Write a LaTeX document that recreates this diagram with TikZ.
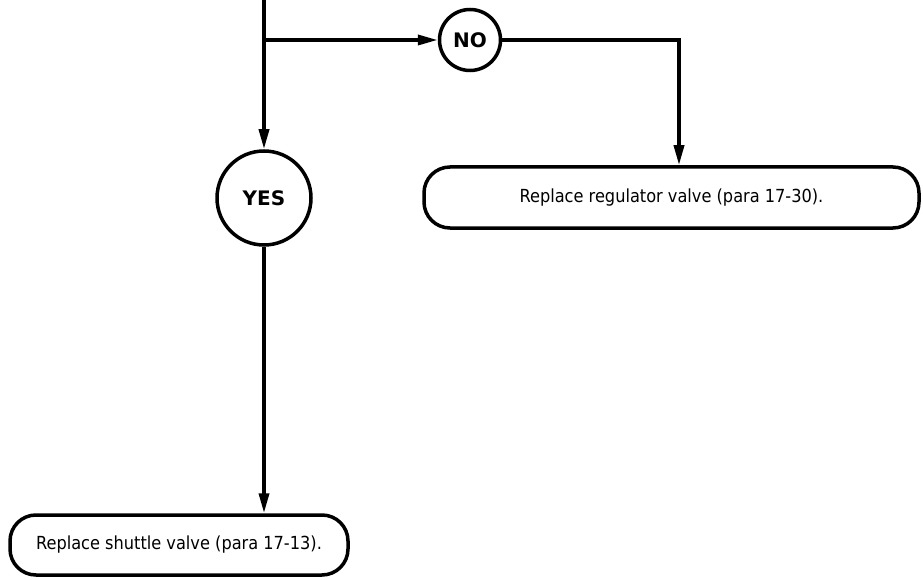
\documentclass[tikz,border=0pt]{standalone}
\usepackage{fontspec}
\setmainfont{DejaVu Sans}
\newfontfamily\condfont{DejaVu Sans Condensed}
\usetikzlibrary{arrows.meta}
\begin{document}
\begin{tikzpicture}[x=1pt,y=-1pt,line width=3.5pt,
  arr/.style={-{Triangle[length=20pt,width=10pt]}},
  decision/.style={draw,circle,inner sep=0pt,font=\fontsize{20}{24}\selectfont\bfseries},
  action/.style={draw,inner sep=0pt,font=\condfont\fontsize{18}{22}\selectfont},
]
\useasboundingbox (0,0) rectangle (923,580);
\coordinate (top) at (264,-2);
\coordinate (br) at (264,40);
\coordinate (corner) at (679,40);
\node[decision,minimum size=94pt] (yes) at (264,198) {YES};
\node[decision,minimum size=61pt] (no) at (470,40) {NO};
\node[action,rounded corners=26pt,minimum width=495pt,minimum height=61pt] (reg) at (671.5,197.5) {Replace regulator valve (para 17-30).};
\node[action,rounded corners=26pt,minimum width=338pt,minimum height=60pt] (shut) at (179,545) {Replace shuttle valve (para 17-13).};
\draw[arr] (top) -- (yes.north);
\draw[arr] (br) -- (no.west);
\draw[arr] (no.east) -- (corner) -- (corner |- reg.north);
\draw[arr] (yes.south) -- (yes.south |- shut.north);
\end{tikzpicture}
\end{document}
